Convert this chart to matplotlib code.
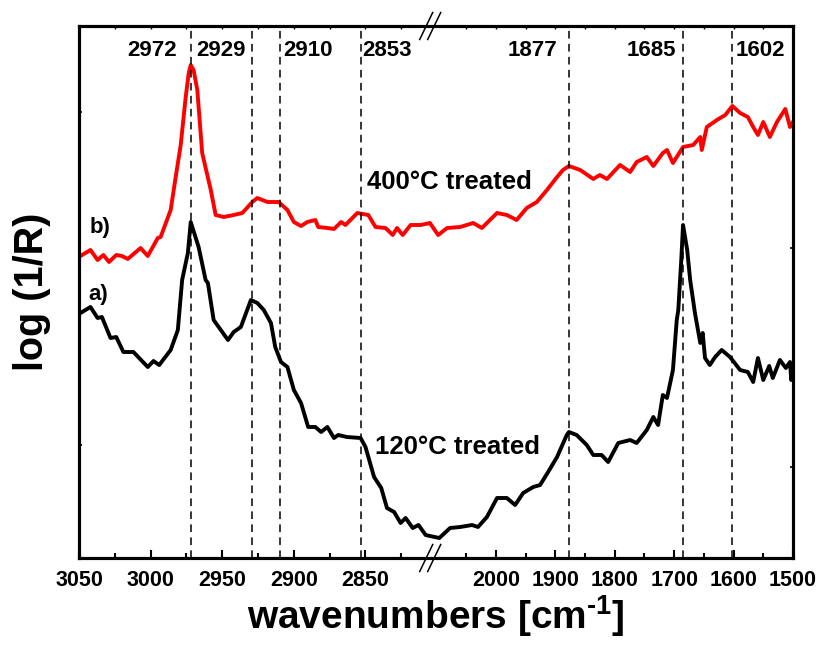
import numpy as np
import matplotlib
matplotlib.use("Agg")
import matplotlib.pyplot as plt
import matplotlib.transforms as mtransforms

plt.rcParams["font.family"] = ["Liberation Sans", "DejaVu Sans"]
plt.rcParams["font.weight"] = "bold"
plt.rcParams["mathtext.fontset"] = "custom"
plt.rcParams["mathtext.rm"] = "Liberation Sans:bold"
plt.rcParams["mathtext.bf"] = "Liberation Sans:bold"

# ---- spectrum b): sample treated at 400 °C -------------------------------
wn_b = [3049, 3042, 3037, 3033, 3029, 3024, 3020, 3016, 3007, 3002, 2995, 2993,
        2986, 2982.5, 2979, 2975.5, 2973.4, 2972, 2970, 2967.4, 2964, 2958,
        2954.6, 2949, 2942, 2936, 2929, 2925.5, 2918.5, 2910.6, 2904.5, 2900,
        2895, 2890.6, 2885, 2883, 2876.6, 2872, 2867, 2864, 2855.7, 2848, 2843,
        2836, 2831, 2828, 2824, 2818.5, 2811.5, 2804.5,
        2097, 2082, 2060, 2038, 2023.5, 1998, 1981.5, 1965, 1948, 1931, 1914,
        1897, 1887, 1877, 1858, 1836, 1825, 1813, 1791, 1774, 1763, 1746, 1735,
        1719, 1712, 1702, 1685, 1668, 1656, 1653.5, 1645, 1628, 1614, 1602,
        1589, 1576, 1567, 1559, 1550, 1539, 1527, 1513, 1505, 1500]
a_b = [3.02, 3.08, 2.98, 3.03, 2.96, 3.03, 3.02, 2.99, 3.10, 3.02, 3.20, 3.21,
       3.48, 3.81, 4.13, 4.61, 4.85, 4.93, 4.88, 4.68, 4.05, 3.68,
       3.43, 3.41, 3.43, 3.45, 3.56, 3.60, 3.56, 3.56, 3.48, 3.36,
       3.32, 3.36, 3.38, 3.31, 3.30, 3.29, 3.36, 3.33, 3.45, 3.43, 3.31,
       3.30, 3.23, 3.30, 3.23, 3.33, 3.33, 3.35,
       3.23, 3.30, 3.31, 3.35, 3.30, 3.45, 3.43, 3.38, 3.50, 3.56, 3.68,
       3.81, 3.88, 3.92, 3.88, 3.79, 3.83, 3.79, 3.93, 3.86, 3.96, 4.01, 3.92,
       4.05, 4.08, 3.95, 4.11, 4.13, 4.21, 4.08, 4.31, 4.38, 4.43, 4.52,
       4.45, 4.41, 4.31, 4.23, 4.36, 4.21, 4.36, 4.49, 4.31, 4.36]

# ---- spectrum a): sample treated at 120 °C -------------------------------
wn_a = [3049, 3042, 3037, 3034, 3028, 3024, 3019, 3012, 3002, 2998, 2994, 2986,
        2981, 2978, 2974, 2972, 2966.5, 2961.6, 2960, 2956, 2946, 2942, 2937,
        2930, 2925.5, 2921, 2916, 2913, 2909, 2904.5, 2900, 2895, 2890, 2885,
        2881, 2876.6, 2872, 2869, 2863, 2853.4, 2850, 2844, 2839, 2835, 2830,
        2825.5, 2822, 2817, 2813, 2808, 2804,
        2095, 2077, 2060, 2040, 2030, 2015, 1998, 1981.5, 1967.5, 1954, 1937,
        1925.5, 1912, 1897, 1880.6, 1877, 1864, 1847, 1836, 1822, 1811, 1794,
        1774, 1763, 1746, 1735, 1727, 1719, 1712, 1702, 1695.6, 1693, 1688,
        1685, 1678, 1673, 1665, 1656, 1652, 1648, 1640, 1631, 1620, 1606, 1589,
        1576, 1567, 1559, 1550, 1540, 1534, 1522, 1512, 1505, 1503, 1500]
a_a = [2.45, 2.51, 2.40, 2.41, 2.20, 2.21, 2.06, 2.06, 1.91, 1.97, 1.93, 2.08,
       2.28, 2.78, 3.05, 3.36, 3.11, 2.78, 2.75, 2.38, 2.18, 2.26, 2.31,
       2.58, 2.55, 2.48, 2.35, 2.11, 1.96, 1.91, 1.68, 1.55, 1.31, 1.31,
       1.26, 1.31, 1.20, 1.23, 1.21, 1.20, 1.11, 0.81, 0.70, 0.50, 0.46,
       0.35, 0.40, 0.30, 0.33, 0.23, 0.22,
       0.20, 0.30, 0.31, 0.33, 0.31, 0.41, 0.60, 0.60, 0.53, 0.65, 0.71,
       0.73, 0.86, 1.01, 1.23, 1.26, 1.23, 1.13, 1.03, 1.03, 0.96, 1.15,
       1.18, 1.15, 1.28, 1.41, 1.33, 1.63, 1.60, 1.88, 2.38, 2.48, 2.98,
       3.33, 3.08, 2.78, 2.45, 2.15, 2.25, 2.00, 1.93, 2.01, 2.08, 2.01, 1.88,
       1.86, 1.76, 2.00, 1.78, 1.92, 1.80, 1.98, 1.90, 1.96, 1.78, 1.86]

# marked band positions
peak_positions = [2972, 2929, 2910, 2853, 1877, 1685, 1602]
peak_labels = ["2972", "2929", "2910", "2853", "1877", "1685", "1602"]

major_ticks = [3050, 3000, 2950, 2900, 2850, 2000, 1900, 1800, 1700, 1600, 1500]
minor_ticks = [3025, 2975, 2925, 2875, 2825, 2050, 1950, 1850, 1750, 1650, 1550]
left_yticks = [4.46, 1.13]
right_yticks = [3.10, 0.91]

# ---- broken wavenumber axis: two linear pieces with different spans ------
HI, HI_END = 3050.0, 2805.0       # high-wavenumber piece
LO_START, LO = 2110.0, 1500.0     # low-wavenumber piece
K_HI, K_LO = 1.433, 0.5946        # relative length per cm-1
GAP = 0.5
P_BREAK = (HI - HI_END) * K_HI


def _pos(w):
    w = np.asarray(w, dtype=float)
    left = (HI - w) * K_HI
    gap = P_BREAK + (HI_END - w) / (HI_END - LO_START) * GAP
    right = P_BREAK + GAP + (LO_START - w) * K_LO
    return np.where(w >= HI_END, left, np.where(w <= LO_START, right, gap))


def fwd(w):
    return -_pos(w)


def inv(u):
    p = -np.asarray(u, dtype=float)
    left = HI - p / K_HI
    gap = HI_END - (p - P_BREAK) / GAP * (HI_END - LO_START)
    right = LO_START - (p - P_BREAK - GAP) / K_LO
    return np.where(p <= P_BREAK, left,
                    np.where(p >= P_BREAK + GAP, right, gap))


fig = plt.figure(figsize=(8.18, 6.51), dpi=100)
ax = fig.add_axes([79 / 818, 93 / 651, 714 / 818, 532 / 651])
ax.set_xscale("function", functions=(fwd, inv))
ax.set_xlim(HI, LO)
ax.set_ylim(0, 5.32)

ax.plot(wn_b, a_b, color="#ff0000", lw=2.8, solid_joinstyle="round", zorder=3)
ax.plot(wn_a, a_a, color="black", lw=2.8, solid_joinstyle="round", zorder=3)

for p in peak_positions:
    ax.axvline(p, color="black", lw=1.1, ls=(0, (5, 3.5)), zorder=4)

# band labels along the top
label_offsets = [(-10, "right"), (-5, "right"), (3, "left"), (1, "left"),
                 (-8.5, "right"), (-5, "right"), (2, "left")]
trans = mtransforms.blended_transform_factory(ax.transData, ax.transAxes)
for p, txt, (dx, ha) in zip(peak_positions, peak_labels, label_offsets):
    ax.annotate(txt, xy=(p, 0.954), xycoords=trans, xytext=(dx, 0),
                textcoords="offset points", ha=ha, va="center",
                fontsize=16, fontweight="bold")

ax.text(0.4034, 0.707, "400°C treated", transform=ax.transAxes, ha="left",
        va="center", fontsize=18.5, fontweight="bold")
ax.text(0.4146, 0.209, "120°C treated", transform=ax.transAxes, ha="left",
        va="center", fontsize=18.5, fontweight="bold")
ax.text(0.0154, 0.622, "b)", transform=ax.transAxes, ha="left", va="center",
        fontsize=16, fontweight="bold")
ax.text(0.0126, 0.496, "a)", transform=ax.transAxes, ha="left", va="center",
        fontsize=16, fontweight="bold")

# ticks
ax.set_xticks(major_ticks)
ax.set_xticklabels([str(t) for t in major_ticks])
ax.set_xticks(minor_ticks, minor=True)
ax.set_yticks(left_yticks)
ax.set_yticklabels([])
ax.tick_params(axis="x", which="major", direction="in", length=6, width=1.5,
               labelsize=15.5, pad=9)
ax.tick_params(axis="x", which="minor", direction="in", length=3.5, width=1.5)
ax.tick_params(axis="y", which="major", direction="in", length=2.5, width=1.2)

top = ax.twiny()
top.set_xscale("function", functions=(fwd, inv))
top.set_xlim(HI, LO)
top.set_xticks(major_ticks)
top.set_xticklabels([])
top.set_xticks(minor_ticks, minor=True)
top.tick_params(axis="x", which="both", direction="in", length=2, width=1)

right = ax.twinx()
right.set_ylim(0, 5.32)
right.set_yticks(right_yticks)
right.set_yticklabels([])
right.tick_params(axis="y", direction="in", length=2.5, width=1.2)

for a in (ax, top, right):
    for s in a.spines.values():
        s.set_linewidth(2.2)

# break marks on the top and bottom spines
frac = float(_pos(2450.0) / _pos(LO))
dx, dy, sep = 6.5 / 714, 13.5 / 532, 8 / 714
for y0 in (0.0, 1.0):
    for off in (-sep / 2, sep / 2):
        ax.plot([frac + off - dx, frac + off + dx], [y0 - dy, y0 + dy],
                transform=ax.transAxes, color="black", lw=1.1,
                clip_on=False, zorder=6)

ax.set_xlabel("wavenumbers [cm$^{\\mathrm{\u2010}1}$]", fontsize=28,
              fontweight="bold", labelpad=1)
ax.set_ylabel("log (1/R)", fontsize=28.5, fontweight="bold", labelpad=17)

fig.savefig("out.png", dpi=100)
